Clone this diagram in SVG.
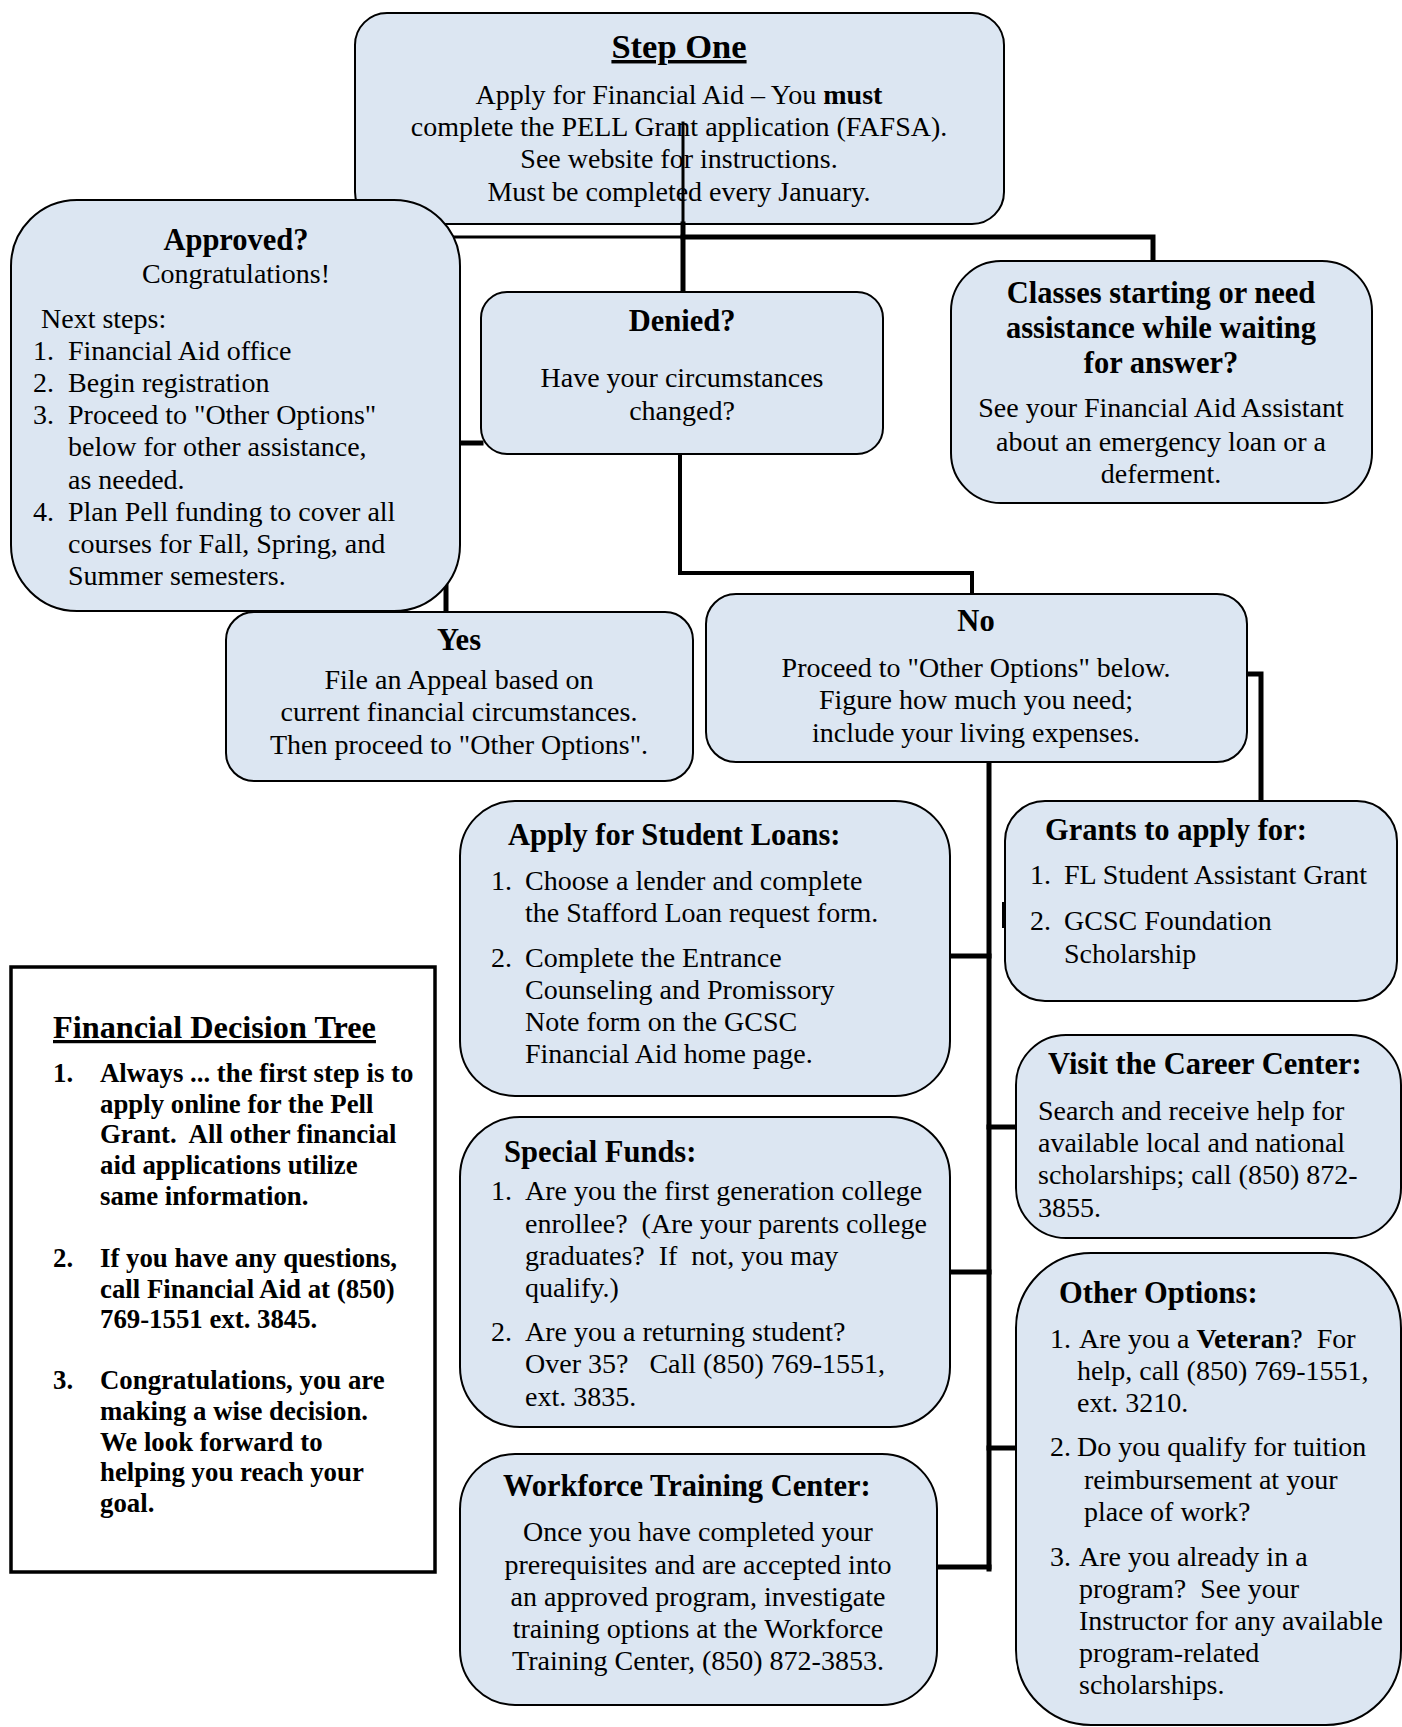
<svg xmlns="http://www.w3.org/2000/svg" width="1402" height="1727" viewBox="0 0 1402 1727">
<style>
.box{fill:#dce6f2;stroke:#000;stroke-width:2}
.t{font-family:"Liberation Serif","Times New Roman",serif;font-size:28px;fill:#000}
.c{text-anchor:middle}
.b{font-weight:bold}
.h{font-family:"Liberation Serif","Times New Roman",serif;font-size:30.5px;font-weight:bold;fill:#000}
.u{text-decoration:underline}
.ln{stroke:#000;fill:none;stroke-linecap:square}
.fdt{font-family:"Liberation Serif","Times New Roman",serif;font-size:26.8px;font-weight:bold;fill:#000}
</style>
<rect width="1402" height="1727" fill="#fff"/>

<g id="step-one">
<rect class="box" x="355" y="13" width="649" height="211" rx="32"/>
<text class="h c u" x="679" y="58" style="font-size:34.5px">Step One</text>
<text class="t c" x="679" y="104">Apply for Financial Aid – You <tspan class="b">must</tspan></text>
<text class="t c" x="679" y="136">complete the PELL Grant application (FAFSA).</text>
<text class="t c" x="679" y="168">See website for instructions.</text>
<text class="t c" x="679" y="201">Must be completed every January.</text>
</g>

<g id="connectors">
<path class="ln" d="M683 123 V224" stroke-width="3"/>
<path class="ln" d="M683 224 V292" stroke-width="5"/>
<path class="ln" d="M440 237 H683" stroke-width="3"/>
<path class="ln" d="M683 237 H1153 V261" stroke-width="5"/>
<path class="ln" d="M481 443 H446 V612" stroke-width="5"/>
<path class="ln" d="M680 454 V573 H972 V594" stroke-width="4"/>
<path class="ln" d="M1247 674 H1261 V801" stroke-width="5"/>
<path class="ln" d="M989 762 V1569" stroke-width="5"/>
<path class="ln" d="M950 956 H989" stroke-width="5"/>
<path class="ln" d="M989 1127 H1016" stroke-width="5"/>
<path class="ln" d="M950 1272 H989" stroke-width="5"/>
<path class="ln" d="M989 1448 H1016" stroke-width="5"/>
<path class="ln" d="M937 1567 H989" stroke-width="5"/>
<path class="ln" d="M1004 904 V926" stroke-width="4"/>
</g>

<g id="approved">
<rect class="box" x="11" y="200" width="449" height="411" rx="66"/>
<text class="h c" x="236" y="250">Approved?</text>
<text class="t c" x="236" y="283">Congratulations!</text>
<text class="t" x="41" y="328">Next steps:</text>
<text class="t" x="33" y="360">1.</text><text class="t" x="68" y="360">Financial Aid office</text>
<text class="t" x="33" y="392">2.</text><text class="t" x="68" y="392">Begin registration</text>
<text class="t" x="33" y="424">3.</text><text class="t" x="68" y="424">Proceed to "Other Options"</text>
<text class="t" x="68" y="456">below for other assistance,</text>
<text class="t" x="68" y="489">as needed.</text>
<text class="t" x="33" y="521">4.</text><text class="t" x="68" y="521">Plan Pell funding to cover all</text>
<text class="t" x="68" y="553">courses for Fall, Spring, and</text>
<text class="t" x="68" y="585">Summer semesters.</text>
</g>

<g id="denied">
<rect class="box" x="481" y="292" width="402" height="162" rx="26"/>
<text class="h c" x="682" y="331">Denied?</text>
<text class="t c" x="682" y="387">Have your circumstances</text>
<text class="t c" x="682" y="420">changed?</text>
</g>

<g id="classes">
<rect class="box" x="951" y="261" width="421" height="242" rx="50"/>
<text class="h c" x="1161" y="303">Classes starting or need</text>
<text class="h c" x="1161" y="338">assistance while waiting</text>
<text class="h c" x="1161" y="373">for answer?</text>
<text class="t c" x="1161" y="417">See your Financial Aid Assistant</text>
<text class="t c" x="1161" y="451">about an emergency loan or a</text>
<text class="t c" x="1161" y="483">deferment.</text>
</g>

<g id="yes">
<rect class="box" x="226" y="612" width="467" height="169" rx="28"/>
<text class="h c" x="459" y="650">Yes</text>
<text class="t c" x="459" y="689">File an Appeal based on</text>
<text class="t c" x="459" y="721">current financial circumstances.</text>
<text class="t c" x="459" y="754">Then proceed to "Other Options".</text>
</g>

<g id="no">
<rect class="box" x="706" y="594" width="541" height="168" rx="30"/>
<text class="h c" x="976" y="631">No</text>
<text class="t c" x="976" y="677">Proceed to "Other Options" below.</text>
<text class="t c" x="976" y="709">Figure how much you need;</text>
<text class="t c" x="976" y="742">include your living expenses.</text>
</g>

<g id="student-loans">
<rect class="box" x="460" y="801" width="490" height="295" rx="55"/>
<text class="h" x="508" y="845">Apply for Student Loans:</text>
<text class="t" x="491" y="890">1.</text><text class="t" x="525" y="890">Choose a lender and complete</text>
<text class="t" x="525" y="922">the Stafford Loan request form.</text>
<text class="t" x="491" y="967">2.</text><text class="t" x="525" y="967">Complete the Entrance</text>
<text class="t" x="525" y="999">Counseling and Promissory</text>
<text class="t" x="525" y="1031">Note form on the GCSC</text>
<text class="t" x="525" y="1063">Financial Aid home page.</text>
</g>

<g id="grants">
<rect class="box" x="1005" y="801" width="392" height="200" rx="40"/>
<text class="h" x="1045" y="840">Grants to apply for:</text>
<text class="t" x="1030" y="884">1.</text><text class="t" x="1064" y="884">FL Student Assistant Grant</text>
<text class="t" x="1030" y="930">2.</text><text class="t" x="1064" y="930">GCSC Foundation</text>
<text class="t" x="1064" y="963">Scholarship</text>
</g>

<g id="career-center">
<rect class="box" x="1016" y="1035" width="385" height="203" rx="50"/>
<text class="h" x="1048" y="1074">Visit the Career Center:</text>
<text class="t" x="1038" y="1120">Search and receive help for</text>
<text class="t" x="1038" y="1152">available local and national</text>
<text class="t" x="1038" y="1184">scholarships; call (850) 872-</text>
<text class="t" x="1038" y="1217">3855.</text>
</g>

<g id="decision-tree">
<rect x="11" y="967" width="424" height="605" fill="#fff" stroke="#000" stroke-width="3.5"/>
<text class="h u" x="53" y="1038" style="font-size:32.3px">Financial Decision Tree</text>
<text class="fdt" x="53" y="1082">1.</text><text class="fdt" x="100" y="1082">Always ... the first step is to</text>
<text class="fdt" x="100" y="1113">apply online for the Pell</text>
<text class="fdt" x="100" y="1143" xml:space="preserve">Grant.  All other financial</text>
<text class="fdt" x="100" y="1174">aid applications utilize</text>
<text class="fdt" x="100" y="1205">same information.</text>
<text class="fdt" x="53" y="1267">2.</text><text class="fdt" x="100" y="1267">If you have any questions,</text>
<text class="fdt" x="100" y="1298">call Financial Aid at (850)</text>
<text class="fdt" x="100" y="1328">769-1551 ext. 3845.</text>
<text class="fdt" x="53" y="1389">3.</text><text class="fdt" x="100" y="1389">Congratulations, you are</text>
<text class="fdt" x="100" y="1420">making a wise decision.</text>
<text class="fdt" x="100" y="1451">We look forward to</text>
<text class="fdt" x="100" y="1481">helping you reach your</text>
<text class="fdt" x="100" y="1512">goal.</text>
</g>

<g id="special-funds">
<rect class="box" x="460" y="1117" width="490" height="310" rx="60"/>
<text class="h" x="504" y="1162">Special Funds:</text>
<text class="t" x="491" y="1200">1.</text><text class="t" x="525" y="1200">Are you the first generation college</text>
<text class="t" x="525" y="1233" xml:space="preserve">enrollee?  (Are your parents college</text>
<text class="t" x="525" y="1265" xml:space="preserve">graduates?  If  not, you may</text>
<text class="t" x="525" y="1297">qualify.)</text>
<text class="t" x="491" y="1341">2.</text><text class="t" x="525" y="1341">Are you a returning student?</text>
<text class="t" x="525" y="1373" xml:space="preserve">Over 35?   Call (850) 769-1551,</text>
<text class="t" x="525" y="1406">ext. 3835.</text>
</g>

<g id="workforce">
<rect class="box" x="460" y="1454" width="477" height="251" rx="55"/>
<text class="h" x="503" y="1496">Workforce Training Center:</text>
<text class="t c" x="698" y="1541">Once you have completed your</text>
<text class="t c" x="698" y="1574">prerequisites and are accepted into</text>
<text class="t c" x="698" y="1606">an approved program, investigate</text>
<text class="t c" x="698" y="1638">training options at the Workforce</text>
<text class="t c" x="698" y="1670">Training Center, (850) 872-3853.</text>
</g>

<g id="other-options">
<rect class="box" x="1016" y="1253" width="385" height="472" rx="75"/>
<text class="h" x="1059" y="1303">Other Options:</text>
<text class="t" x="1050" y="1348">1.</text><text class="t" x="1079" y="1348" xml:space="preserve">Are you a <tspan class="b">Veteran</tspan>?  For</text>
<text class="t" x="1077" y="1380">help, call (850) 769-1551,</text>
<text class="t" x="1077" y="1412">ext. 3210.</text>
<text class="t" x="1050" y="1456">2.</text><text class="t" x="1077" y="1456">Do you qualify for tuition</text>
<text class="t" x="1084" y="1489">reimbursement at your</text>
<text class="t" x="1084" y="1521">place of work?</text>
<text class="t" x="1050" y="1566">3.</text><text class="t" x="1079" y="1566">Are you already in a</text>
<text class="t" x="1079" y="1598" xml:space="preserve">program?  See your</text>
<text class="t" x="1079" y="1630">Instructor for any available</text>
<text class="t" x="1079" y="1662">program-related</text>
<text class="t" x="1079" y="1694">scholarships.</text>
</g>
</svg>
